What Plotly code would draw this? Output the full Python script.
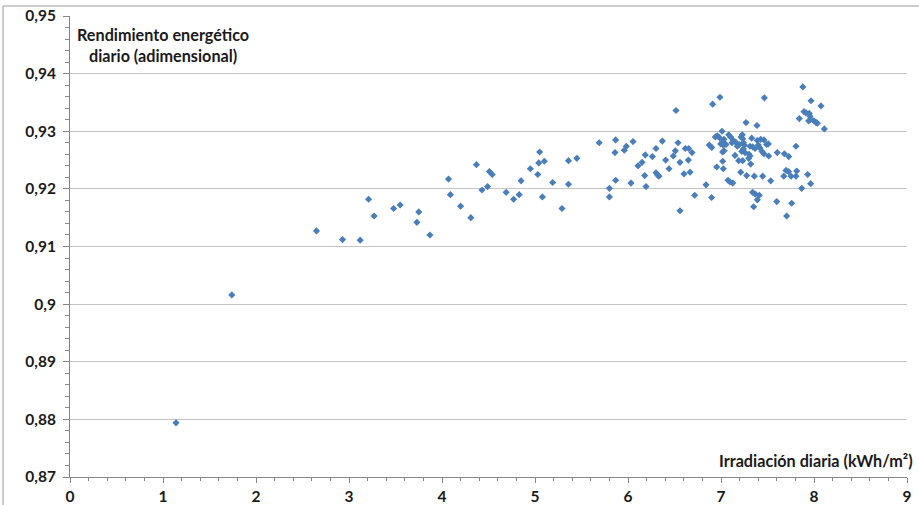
import plotly.graph_objects as go

# Daily irradiation (kWh/m²) and daily energy performance ratio
irradiacion = [
    1.14, 1.74,
    2.65, 2.93, 3.12, 3.21, 3.27, 3.48, 3.55, 3.73, 3.75, 3.87,
    4.07, 4.09, 4.20, 4.31, 4.37, 4.43, 4.49, 4.51, 4.54, 4.69, 4.77, 4.83, 4.85, 4.95,
    5.03, 5.04, 5.05, 5.10, 5.08, 5.19, 5.29, 5.36, 5.36, 5.45, 5.69, 5.80, 5.80,
    6.516, 5.867, 5.860, 5.960, 5.982, 6.054, 5.867, 6.032, 6.108, 6.151, 6.186, 6.262,
    6.301, 6.369, 6.179, 6.194, 6.301, 6.319, 6.333, 6.405, 6.441, 6.487, 6.509, 6.538,
    6.559, 6.602, 6.616, 6.652, 6.649, 6.667, 6.688, 6.717, 6.559,
    6.939, 6.960, 6.982, 7.011, 7.083, 7.104, 7.229, 7.215, 7.233, 7.330, 7.390, 7.427,
    7.462, 7.491, 7.509, 7.018, 7.032, 6.997, 7.025, 7.054, 7.132, 7.158, 7.118, 7.175,
    7.197, 7.240, 7.251, 7.312, 7.341, 7.366, 7.401, 7.419, 7.441, 6.874, 6.900, 7.018,
    7.032, 7.151, 7.223, 7.240, 7.258, 7.301, 7.312, 7.298, 7.462, 7.513, 7.605, 7.681,
    7.728, 7.806, 7.018, 6.954, 7.025, 7.190, 7.233, 7.319, 7.212, 7.276, 7.358, 7.448,
    7.534, 7.075, 7.097, 7.126, 6.839, 7.675, 7.753, 7.806, 7.699, 7.726, 7.814,
    6.910, 6.989, 7.466, 7.269, 7.387, 6.899, 7.340, 7.369, 7.412, 7.391, 7.351, 7.599,
    7.706, 7.760, 7.932, 7.964, 7.868,
    7.880, 7.968, 8.075, 7.892, 7.914, 7.842, 7.949, 7.957, 7.964, 7.943, 8.000, 8.022,
    8.036, 8.111,
]

rendimiento = [
    0.8794, 0.9016,
    0.9127, 0.9112, 0.9111, 0.9182, 0.9153, 0.9166, 0.9172, 0.9142, 0.9160, 0.9120,
    0.9217, 0.9190, 0.9170, 0.9150, 0.9242, 0.9198, 0.9204, 0.9230, 0.9225, 0.9194, 0.9182, 0.9190, 0.9214, 0.9235,
    0.9225, 0.9245, 0.9264, 0.9248, 0.9186, 0.9211, 0.9166, 0.9249, 0.9208, 0.9253, 0.9280, 0.9201, 0.9186,
    0.9336, 0.9285, 0.9263, 0.9267, 0.9274, 0.9282, 0.9215, 0.9210, 0.9240, 0.9246, 0.9259, 0.9256,
    0.9270, 0.9283, 0.9223, 0.9204, 0.9228, 0.9224, 0.9222, 0.9250, 0.9235, 0.9257, 0.9266, 0.9280,
    0.9246, 0.9226, 0.9270, 0.9270, 0.9250, 0.9229, 0.9263, 0.9189, 0.9162,
    0.9290, 0.9292, 0.9289, 0.9300, 0.9294, 0.9290, 0.9294, 0.9290, 0.9287, 0.9288, 0.9284, 0.9286,
    0.9285, 0.9277, 0.9278, 0.9282, 0.9286, 0.9278, 0.9276, 0.9277, 0.9284, 0.9281, 0.9280, 0.9274,
    0.9277, 0.9280, 0.9276, 0.9274, 0.9273, 0.9270, 0.9276, 0.9271, 0.9265, 0.9276, 0.9272, 0.9264,
    0.9266, 0.9258, 0.9265, 0.9269, 0.9263, 0.9260, 0.9257, 0.9253, 0.9261, 0.9257, 0.9263, 0.9261,
    0.9256, 0.9274, 0.9248, 0.9238, 0.9235, 0.9249, 0.9249, 0.9243, 0.9229, 0.9223, 0.9222, 0.9222,
    0.9214, 0.9215, 0.9212, 0.9210, 0.9207, 0.9222, 0.9222, 0.9222, 0.9232, 0.9230, 0.9231,
    0.9347, 0.9359, 0.9358, 0.9315, 0.9310, 0.9185, 0.9194, 0.9191, 0.9189, 0.9181, 0.9169, 0.9178,
    0.9153, 0.9175, 0.9225, 0.9209, 0.9201,
    0.9377, 0.9353, 0.9344, 0.9334, 0.9332, 0.9322, 0.9331, 0.9326, 0.9321, 0.9318, 0.9318, 0.9315,
    0.9314, 0.9304,
]

x_ticks = [0, 1, 2, 3, 4, 5, 6, 7, 8, 9]
x_tick_labels = ["0", "1", "2", "3", "4", "5", "6", "7", "8", "9"]
y_ticks = [0.87, 0.88, 0.89, 0.90, 0.91, 0.92, 0.93, 0.94, 0.95]
y_tick_labels = ["0,87", "0,88", "0,89", "0,9", "0,91", "0,92", "0,93", "0,94", "0,95"]

FONT = "Lato"
TEXT_COLOR = "#1a1a1a"
AXIS_COLOR = "#868686"

fig = go.Figure(
    go.Scatter(
        x=irradiacion,
        y=rendimiento,
        mode="markers",
        marker=dict(symbol="diamond", size=5.5, color="#4A7EBB", line=dict(width=0)),
        hoverinfo="x+y",
    )
)

fig.update_layout(
    width=919,
    height=505,
    margin=dict(l=70, r=12, t=16, b=28),
    paper_bgcolor="white",
    plot_bgcolor="white",
    showlegend=False,
    font=dict(family=FONT, size=15, color=TEXT_COLOR, weight="bold"),
    xaxis=dict(
        range=[0, 9],
        automargin=False,
        tickvals=x_ticks,
        ticktext=x_tick_labels,
        showgrid=False,
        zeroline=False,
        showline=True,
        linecolor=AXIS_COLOR,
        linewidth=1,
        ticks="outside",
        ticklen=5,
        tickcolor=AXIS_COLOR,
        minor=dict(dtick=0.2, ticks="outside", ticklen=3, tickcolor=AXIS_COLOR, showgrid=False),
        tickfont=dict(family=FONT, size=15.5, color=TEXT_COLOR, weight="bold"),
    ),
    yaxis=dict(
        range=[0.87, 0.95],
        automargin=False,
        tickvals=y_ticks,
        ticktext=y_tick_labels,
        showgrid=True,
        gridcolor="#C4C4C4",
        gridwidth=1,
        zeroline=False,
        showline=True,
        linecolor=AXIS_COLOR,
        linewidth=1,
        ticks="outside",
        ticklen=6,
        tickcolor=AXIS_COLOR,
        minor=dict(dtick=0.002, ticks="outside", ticklen=4, tickcolor=AXIS_COLOR, showgrid=False),
        tickfont=dict(family=FONT, size=15.5, color=TEXT_COLOR, weight="bold"),
        ticklabelstandoff=4,
    ),
    annotations=[
        dict(
            text="Rendimiento energético<br>diario (adimensional)",
            xref="paper", yref="paper",
            x=0.111, y=0.985,
            xanchor="center", yanchor="top",
            align="center",
            showarrow=False,
            font=dict(family=FONT, size=16.2, color=TEXT_COLOR, weight="bold"),
        ),
        dict(
            text="Irradiación diaria (kWh/m²)",
            xref="paper", yref="paper",
            x=1, y=0.035,
            xanchor="right", yanchor="middle",
            xshift=8,
            showarrow=False,
            font=dict(family=FONT, size=16.2, color=TEXT_COLOR, weight="bold"),
        ),
    ],
    shapes=[
        # outer chart frame (top and left edges)
        dict(type="line", xref="paper", yref="paper",
             x0=-67 / 837, x1=1.1, y0=1 + 10 / 461, y1=1 + 10 / 461,
             line=dict(color="#9A9A9A", width=1)),
        dict(type="line", xref="paper", yref="paper",
             x0=-67 / 837, x1=-67 / 837, y0=1 + 10 / 461, y1=-0.2,
             line=dict(color="#9A9A9A", width=1)),
    ],
)

fig.write_html("out.html")
